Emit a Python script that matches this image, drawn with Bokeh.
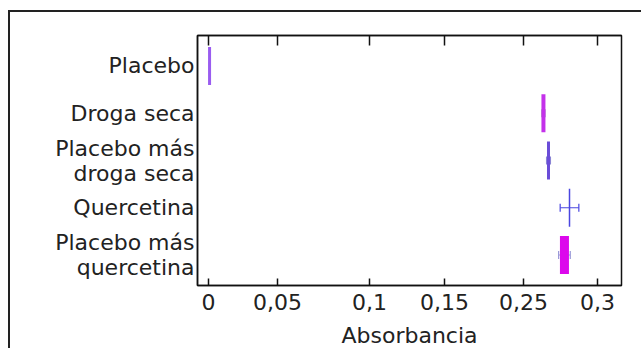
from bokeh.plotting import figure
from bokeh.models import FactorRange, LinearAxis, FixedTicker, Range1d
from bokeh.embed import file_html
from bokeh.resources import INLINE

# categories (top to bottom)
categories = ["Placebo", "Droga seca", "Placebo más\ndroga seca", "Quercetina", "Placebo más\nquercetina"]
# absorbance values (in the chart's axis units)
values = [0.0008, 0.2583, 0.2622, 0.2784, 0.2745]
errors = [0.0004, 0.0012, 0.0015, 0.0072, 0.0045]
colors = ["#9a5cf0", "#c431ea", "#6a4cd8", "#4a46e0", "#dc08ec"]
bar_widths = [3, 4, 3, 1.5, 9]
whisker_colors = ["#b9a6e8", "#a08ab8", "#8a84d4", "#4a46e0", "#9a9ad8"]

# x-axis ticks (positions on the drawn axis) and their labels
tick_positions = [0.0, 0.0532, 0.1242, 0.1820, 0.2429, 0.3]
tick_labels = ["0", "0,05", "0,1", "0,15", "0,25", "0,3"]

FONT = "DejaVu Sans"
TXT = "#222222"
FS = "22px"

p = figure(width=633, height=338, output_backend="svg", toolbar_location=None,
           y_range=FactorRange(factors=list(reversed(categories)), range_padding=0.058),
           x_range=Range1d(-0.0085, 0.3185),
           min_border_left=187, min_border_right=22, min_border_top=23, min_border_bottom=65,
           x_axis_location="below")
p.styles = {"border-top": "2px solid #222", "border-left": "2px solid #222",
            "margin-top": "10px", "margin-left": "8px"}
p.grid.visible = False
p.outline_line_color = "#111111"
p.outline_line_width = 1.5
p.background_fill_color = "white"
p.border_fill_color = "white"

# x axis
xa = p.xaxis[0]
xa.ticker = FixedTicker(ticks=tick_positions)
xa.major_label_overrides = {t: l for t, l in zip(tick_positions, tick_labels)}
xa.major_tick_in = 7
xa.major_tick_out = 0
xa.minor_tick_line_color = None
xa.axis_label = "Absorbancia"
xa.axis_label_text_font = FONT
xa.axis_label_text_font_size = FS
xa.axis_label_text_font_style = "normal"
xa.axis_label_text_color = TXT
xa.axis_label_standoff = 10
xa.major_label_text_font = FONT
xa.major_label_text_font_size = FS
xa.major_label_text_color = TXT
xa.major_label_standoff = 8
xa.axis_line_color = "#111111"
xa.axis_line_width = 1.5
xa.major_tick_line_color = "#111111"
xa.major_tick_line_width = 1.5

top = LinearAxis(ticker=FixedTicker(ticks=tick_positions), major_tick_in=10, major_tick_out=0,
                 minor_tick_line_color=None,
                 major_label_overrides={t: "" for t in tick_positions},
                 major_label_standoff=0, axis_line_color="#111111", axis_line_width=1.5,
                 major_tick_line_color="#111111", major_tick_line_width=1.5)
p.add_layout(top, "above")

ya = p.yaxis[0]
ya.major_tick_in = 0
ya.major_tick_out = 0
ya.minor_tick_line_color = None
ya.major_label_text_font = FONT
ya.major_label_text_font_size = FS
ya.major_label_text_color = TXT
ya.major_label_text_line_height = 1.0
ya.major_label_standoff = 3
ya.axis_line_color = "#111111"
ya.axis_line_width = 1.5

# whiskers
p.segment(x0=[v - e for v, e in zip(values, errors)], x1=[v + e for v, e in zip(values, errors)],
          y0=categories, y1=categories, line_color=whisker_colors, line_width=1.2)
p.rect(x=[v - e for v, e in zip(values, errors)], y=categories, width=1.2, height=8,
       width_units="screen", height_units="screen", fill_color=whisker_colors, line_color=None)
p.rect(x=[v + e for v, e in zip(values, errors)], y=categories, width=1.2, height=8,
       width_units="screen", height_units="screen", fill_color=whisker_colors, line_color=None)

# value bars
p.rect(x=values, y=categories, width=bar_widths, width_units="screen", height=0.8,
       fill_color=colors, line_color=None)

open("out.html", "w").write(file_html(p, INLINE))
